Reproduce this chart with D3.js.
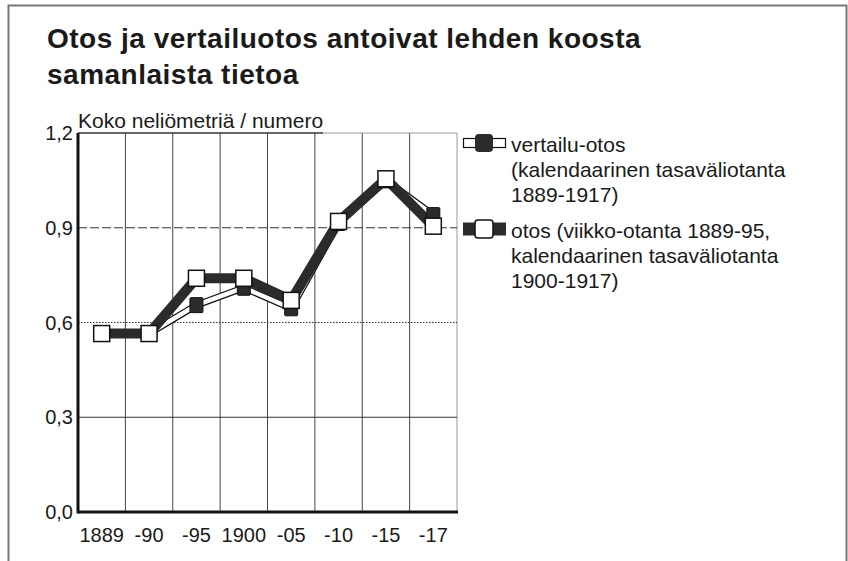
<!DOCTYPE html>
<html>
<head>
<meta charset="utf-8">
<script src="https://cdn.jsdelivr.net/npm/d3@7"></script>
<style>
  body { margin: 0; background: #fff; }
  svg text { font-family: "Liberation Sans", Arial, sans-serif; fill: #1a1a1a; }
</style>
</head>
<body>
<div id="chart"></div>
<script>
// Values
const categories = ["1889", "-90", "-95", "1900", "-05", "-10", "-15", "-17"];
const otos = [0.565, 0.565, 0.74, 0.74, 0.67, 0.92, 1.055, 0.905];
const vertailu = [0.565, 0.565, 0.655, 0.71, 0.645, 0.915, 1.05, 0.94];
const yTicks = [0, 0.3, 0.6, 0.9, 1.2];
const titleLines = ["Otos ja vertailuotos antoivat lehden koosta", "samanlaista tietoa"];
const legendOtos = ["otos (viikko-otanta 1889-95,", "kalendaarinen tasaväliotanta", "1900-1917)"];
const legendVertailu = ["vertailu-otos", "(kalendaarinen tasaväliotanta", "1889-1917)"];

const width = 848;
const height = 561;
const margin = {top: 133, left: 78, right: 391, bottom: 49};

const svg = d3.select("#chart")
    .append("svg")
    .attr("width", width)
    .attr("height", height);

// frame round the figure
svg.append("rect")
    .attr("x", 8.5).attr("y", 5.5)
    .attr("width", 838).attr("height", 570)
    .attr("fill", "none")
    .attr("stroke", "#777")
    .attr("stroke-width", 2);

svg.selectAll("text.title")
    .data(titleLines)
    .enter()
    .append("text")
        .attr("class", "title")
        .attr("x", 47)
        .attr("y", function(d, i) { return 48 + i * 36; })
        .style("font-size", "28px")
        .style("font-weight", "bold")
        .style("letter-spacing", "0.5px")
        .text(function(d) { return d; });

const xScale = d3.scaleBand()
    .domain(categories)
    .range([margin.left, width - margin.right]);

const yScale = d3.scaleLinear()
    .domain([0, 1.2])
    .range([height - margin.bottom, margin.top]);

const x0 = margin.left, x1 = width - margin.right;

// vertical grid lines at band edges
const edges = categories.map(function(d) { return xScale(d); }).concat([x1]);
svg.selectAll("line.vgrid")
    .data(edges.slice(1))
    .enter()
    .append("line")
        .attr("class", "vgrid")
        .attr("x1", function(d) { return d; })
        .attr("x2", function(d) { return d; })
        .attr("y1", yScale(1.2))
        .attr("y2", yScale(0))
        .attr("stroke", function(d, i) { return i === edges.length - 2 ? "#999" : "#444"; })
        .attr("stroke-width", 1);

// horizontal grid lines
const dashes = {"0.3": null, "0.6": "1.5,1.5", "0.9": "9,3"};
svg.selectAll("line.hgrid")
    .data([0.3, 0.6, 0.9])
    .enter()
    .append("line")
        .attr("class", "hgrid")
        .attr("x1", x0).attr("x2", x1)
        .attr("y1", function(d) { return yScale(d); })
        .attr("y2", function(d) { return yScale(d); })
        .attr("stroke", "#333")
        .attr("stroke-width", 1)
        .attr("stroke-dasharray", function(d) { return dashes[String(d)]; });

// top line of the plot box
svg.append("line")
    .attr("x1", x0).attr("x2", x0 + 245)
    .attr("y1", yScale(1.2)).attr("y2", yScale(1.2))
    .attr("stroke", "#333").attr("stroke-width", 1.5);
svg.append("line")
    .attr("x1", x0 + 245).attr("x2", x1)
    .attr("y1", yScale(1.2)).attr("y2", yScale(1.2))
    .attr("stroke", "#999").attr("stroke-width", 1);

// axes
svg.append("line")
    .attr("x1", x0).attr("x2", x0)
    .attr("y1", yScale(1.2)).attr("y2", yScale(0) + 1.5)
    .attr("stroke", "#111").attr("stroke-width", 3);
svg.append("line")
    .attr("x1", x0).attr("x2", x1 + 1)
    .attr("y1", yScale(0)).attr("y2", yScale(0))
    .attr("stroke", "#111").attr("stroke-width", 3);

svg.selectAll("text.ytick")
    .data(yTicks)
    .enter()
    .append("text")
        .attr("class", "ytick")
        .attr("x", 73)
        .attr("y", function(d) { return yScale(d) + 7; })
        .style("text-anchor", "end")
        .style("font-size", "20px")
        .text(function(d) { return d3.format(".1f")(d).replace(".", ","); });

svg.selectAll("text.xtick")
    .data(categories)
    .enter()
    .append("text")
        .attr("class", "xtick")
        .attr("x", function(d) { return xScale(d) + xScale.bandwidth() / 2; })
        .attr("y", 542)
        .style("text-anchor", "middle")
        .style("font-size", "20px")
        .text(function(d) { return d; });

svg.append("text")
    .attr("x", 78)
    .attr("y", 128)
    .style("font-size", "21px")
    .text("Koko neliömetriä / numero");

const cx = function(d, i) { return xScale(categories[i]) + xScale.bandwidth() / 2; };

const line = d3.line()
    .x(cx)
    .y(function(d) { return yScale(d); });

// vertailu-otos: white line with black outline
svg.append("path")
    .datum(vertailu)
    .attr("d", line)
    .attr("fill", "none")
    .attr("stroke", "#111")
    .attr("stroke-width", 7)
    .attr("stroke-linejoin", "miter");
svg.append("path")
    .datum(vertailu)
    .attr("d", line)
    .attr("fill", "none")
    .attr("stroke", "#fff")
    .attr("stroke-width", 4.5)
    .attr("stroke-linejoin", "miter");

// otos: thick dark line
svg.append("path")
    .datum(otos)
    .attr("d", line)
    .attr("fill", "none")
    .attr("stroke", "#2b2b2b")
    .attr("stroke-width", 10)
    .attr("stroke-linejoin", "miter");

// vertailu markers: black squares
svg.selectAll("rect.vmark")
    .data(vertailu)
    .enter()
    .append("rect")
        .attr("class", "vmark")
        .attr("x", function(d, i) { return cx(d, i) - 6.5; })
        .attr("y", function(d) { return yScale(d) - 7.5; })
        .attr("width", 13)
        .attr("height", 15)
        .attr("rx", 1)
        .attr("fill", "#2b2b2b")
        .attr("stroke", "#111");

// otos markers: white squares
svg.selectAll("rect.omark")
    .data(otos)
    .enter()
    .append("rect")
        .attr("class", "omark")
        .attr("x", function(d, i) { return cx(d, i) - 8; })
        .attr("y", function(d) { return yScale(d) - 8; })
        .attr("width", 16)
        .attr("height", 16)
        .attr("fill", "#fff")
        .attr("stroke", "#111")
        .attr("stroke-width", 1.5);

// legend
const lx = 463;
const legend1 = svg.append("g").attr("transform", "translate(" + lx + ",143)");
legend1.append("rect")
    .attr("x", 0.5).attr("y", -4.5).attr("width", 42).attr("height", 9)
    .attr("fill", "#fff").attr("stroke", "#111").attr("stroke-width", 1.2);
legend1.append("rect")
    .attr("x", 12).attr("y", -9).attr("width", 18).attr("height", 18).attr("rx", 4)
    .attr("fill", "#2b2b2b");

const legend2 = svg.append("g").attr("transform", "translate(" + lx + ",229)");
legend2.append("rect")
    .attr("x", 0).attr("y", -6.5).attr("width", 43).attr("height", 13)
    .attr("fill", "#2b2b2b");
legend2.append("rect")
    .attr("x", 12).attr("y", -9).attr("width", 18).attr("height", 18).attr("rx", 3)
    .attr("fill", "#fff").attr("stroke", "#111").attr("stroke-width", 1.5);

svg.selectAll("text.leg1")
    .data(legendVertailu)
    .enter()
    .append("text")
        .attr("class", "leg1")
        .attr("x", 511)
        .attr("y", function(d, i) { return 152 + i * 25; })
        .style("font-size", "21px")
        .text(function(d) { return d; });

svg.selectAll("text.leg2")
    .data(legendOtos)
    .enter()
    .append("text")
        .attr("class", "leg2")
        .attr("x", 511)
        .attr("y", function(d, i) { return 238 + i * 25; })
        .style("font-size", "21px")
        .text(function(d) { return d; });
</script>
</body>
</html>
